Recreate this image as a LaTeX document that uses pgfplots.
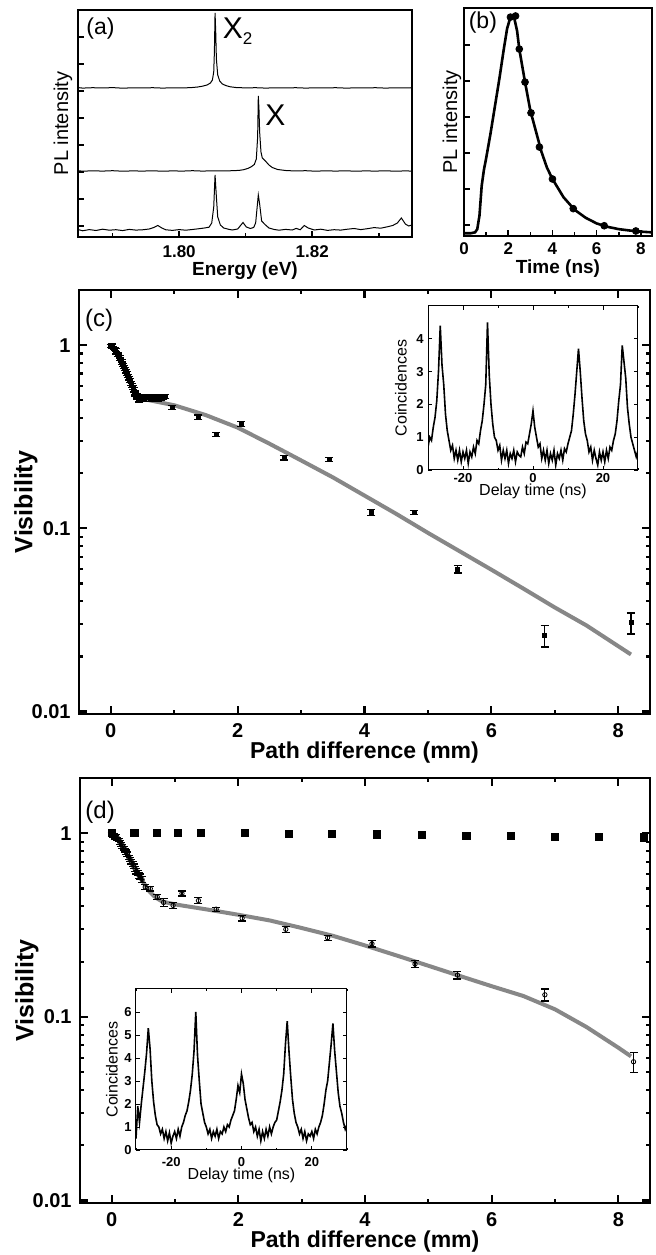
\documentclass[border=0pt]{standalone}
\usepackage{pgfplots}
\pgfplotsset{compat=1.18}
\usepackage{fontspec}
\setmainfont{Liberation Sans}
\definecolor{fitgray}{RGB}{135,135,135}
\pgfplotsset{
 specstyle/.style={scale only axis, anchor=south west, tick align=inside,
   xtick pos=bottom, ytick pos=left, axis line style={line width=1pt},
   every tick/.style={black,line width=0.8pt}, major tick length=3pt, minor tick length=1.8pt,
   ticklabel style={font=\fontsize{8.5}{9}\selectfont\bfseries}, yticklabels={},
   xticklabel style={anchor=center, yshift=-7.5pt},
   every axis x label/.style={at={(axis description cs:0.5,0)},anchor=center,yshift=-17pt,font=\fontsize{9.5}{10}\selectfont\bfseries},
   every axis y label/.style={at={(axis description cs:0,0.5)},rotate=90,anchor=center,yshift=7.5pt,font=\fontsize{10}{11}\selectfont}},
 visstyle/.style={scale only axis, anchor=south west,
   xmin=-0.5,xmax=8.5,ymin=0.0097,ymax=2,
   xtick={0,2,4,6,8}, xticklabels={0,2,4,6,8}, minor xtick={1,3,5,7},
   ytick={0.01,0.1,1}, yticklabels={0.01,0.1,1},
   minor ytick={0.02,0.03,0.04,0.05,0.06,0.07,0.08,0.09,0.2,0.3,0.4,0.5,0.6,0.7,0.8,0.9,2},
   tick align=inside, tick pos=both,
   axis line style={line width=1.4pt},
   every tick/.style={black,line width=1.1pt},
   major tick length=4pt, minor tick length=2pt,
   ticklabel style={font=\fontsize{10}{10}\selectfont\bfseries},
   xticklabel style={anchor=center, yshift=-8.5pt},
   yticklabel style={anchor=east, inner sep=0pt, xshift=-4pt},
   xlabel={Path difference (mm)}, ylabel={Visibility},
   every axis x label/.style={at={(axis description cs:0.5,0)},anchor=center,yshift=-19.5pt,font=\fontsize{11.5}{12}\selectfont\bfseries},
   every axis y label/.style={at={(axis description cs:0,0.5)},rotate=90,anchor=center,yshift=26.5pt,font=\fontsize{12.5}{13}\selectfont\bfseries}},
 insetstyle/.style={scale only axis, anchor=south west, xmin=-30, xmax=30, ymin=0,
   xtick={-20,0,20}, xticklabels={-20,0,20}, minor xtick={-30,-10,10,30},
   tick align=inside, tick pos=both, axis line style={line width=0.5pt},
   every tick/.style={black,line width=0.4pt}, major tick length=2pt, minor tick length=1.2pt,
   ticklabel style={font=\fontsize{6.5}{7}\selectfont\bfseries},
   yticklabel style={anchor=east, inner sep=0pt, xshift=-2pt},
   xlabel={Delay time (ns)}, ylabel={Coincidences},
   every axis x label/.style={at={(axis description cs:0.5,0)},anchor=center,font=\fontsize{8}{8}\selectfont},
   every axis y label/.style={at={(axis description cs:0,0.5)},rotate=90,anchor=center,font=\fontsize{8}{8}\selectfont},
   axis background/.style={fill=white}}
}
\begin{document}
\begin{tikzpicture}
\useasboundingbox (0,0) rectangle (328pt,627.5pt);
% ---------------- (a)
\begin{axis}[specstyle, at={(39pt,509pt)}, width=167pt, height=113.5pt,
  xmin=1.7848, xmax=1.835, ymin=0, ymax=227,
  xtick={1.80,1.82}, xticklabels={1.80,1.82}, minor xtick={1.79,1.81,1.83},
  ytick={11,38,65,92,119,146,173,200},
  xlabel={Energy (eV)}, ylabel={PL intensity}]
\addplot[black, line width=0.5pt] coordinates {(1.7848,149.4) (1.7855,148.9) (1.787,149.3) (1.7885,149.0) (1.790,149.4) (1.7915,148.8) (1.793,149.2) (1.7945,149.0) (1.796,149.3) (1.7975,148.9) (1.799,149.2) (1.8005,149.0) (1.802,149.5) (1.8028,150.0) (1.8035,150.8) (1.8042,152.0) (1.8047,154.0) (1.8050,157.0) (1.8052,165) (1.8053,185) (1.8054,224) (1.8055,205) (1.8056,178) (1.8058,162) (1.8061,156) (1.8065,153) (1.807,151.5) (1.8076,150.3) (1.8085,149.5) (1.810,149.1) (1.8115,149.3) (1.813,148.9) (1.8145,149.2) (1.816,149.0) (1.8175,149.3) (1.819,148.9) (1.8205,149.2) (1.822,149.0) (1.8235,149.3) (1.825,148.9) (1.8265,149.1) (1.828,149.0) (1.8295,149.3) (1.831,148.9) (1.8325,149.2) (1.834,149.0) (1.835,149.3)};
\addplot[black, line width=0.5pt] coordinates {(1.7848,66.3) (1.7855,65.8) (1.787,66.2) (1.7885,65.9) (1.790,66.3) (1.7915,65.8) (1.793,66.1) (1.7945,65.9) (1.796,66.2) (1.7975,65.8) (1.799,66.1) (1.8005,65.9) (1.802,66.3) (1.8035,65.9) (1.805,66.2) (1.8065,66.0) (1.808,66.3) (1.809,66.6) (1.8097,67.3) (1.8103,68.5) (1.8109,70.5) (1.8113,72.5) (1.8116,78) (1.8118,100) (1.8119,141) (1.8120,128) (1.8121,105) (1.8123,85) (1.8125,79) (1.8128,77) (1.8131,75) (1.8135,72) (1.8140,69.5) (1.8148,67.5) (1.816,66.5) (1.8175,66.0) (1.819,66.3) (1.8205,65.8) (1.822,66.2) (1.8235,65.9) (1.825,66.2) (1.8265,65.8) (1.828,66.1) (1.8295,65.9) (1.831,66.2) (1.8325,65.8) (1.834,66.1) (1.835,65.9)};
\addplot[black, line width=0.5pt] coordinates {(1.7848,7.5) (1.7855,6.2) (1.7865,7.4) (1.7875,6.5) (1.7885,7.8) (1.7895,6.8) (1.7905,7.3) (1.7915,6.4) (1.7925,7.6) (1.7935,6.9) (1.7945,7.2) (1.7955,8.0) (1.7962,9.5) (1.7968,11.5) (1.7974,9.0) (1.798,7.2) (1.799,6.6) (1.800,7.4) (1.801,6.8) (1.802,7.5) (1.803,8.3) (1.8038,9.0) (1.8045,9.8) (1.8049,14) (1.8052,30) (1.8054,62) (1.8056,40) (1.8058,20) (1.8062,12) (1.8067,9) (1.8075,7.6) (1.808,7.0) (1.8088,8.0) (1.8096,14.5) (1.8101,10) (1.8107,8.5) (1.8112,9.5) (1.8115,14) (1.8117,28) (1.8119,42) (1.8121,33) (1.8124,16) (1.8129,12.5) (1.8135,9) (1.8143,7.5) (1.815,6.8) (1.816,7.6) (1.817,7.0) (1.8176,8.6) (1.8182,7.2) (1.8188,11.5) (1.8194,9) (1.8203,7.0) (1.8213,7.8) (1.8223,6.6) (1.8233,7.3) (1.8243,6.9) (1.8253,7.8) (1.8263,8.5) (1.8273,7.4) (1.8283,8.3) (1.8293,9.4) (1.8303,8.8) (1.8313,10.2) (1.8321,11.5) (1.8328,14) (1.8334,19) (1.834,13) (1.8345,11) (1.835,12)};
\node[anchor=base west, inner sep=0, font=\fontsize{11.5}{12}\selectfont] at (axis cs:1.786,202) {(a)};
\node[anchor=base west, inner sep=0, font=\fontsize{15}{15}\selectfont] at (axis cs:1.8065,198) {X\raisebox{-3pt}{\fontsize{8.5}{9}\selectfont 2}};
\node[anchor=base west, inner sep=0, font=\fontsize{15}{15}\selectfont] at (axis cs:1.8129,111) {X};
\end{axis}
% ---------------- (b)
\begin{axis}[specstyle, at={(232pt,509.5pt)}, width=94pt, height=114pt,
  xmin=0, xmax=8.5, ymin=0, ymax=1,
  xtick={0,2,4,6,8}, xticklabels={0,2,4,6,8}, minor xtick={1,3,5,7},
  ytick={0.049,0.207,0.365,0.523,0.681,0.839},
  xticklabel style={yshift=1pt},
  xlabel={Time (ns)}, ylabel={PL intensity},
  every axis x label/.append style={yshift=0.5pt},
  every axis y label/.append style={yshift=-1.5pt}]
\addplot[black, line width=1.3pt] coordinates {(0,0.012) (0.3,0.012) (0.5,0.016) (0.6,0.03) (0.7,0.09) (0.8,0.22) (0.9,0.29) (1.0,0.34) (1.2,0.45) (1.4,0.57) (1.6,0.69) (1.8,0.82) (1.95,0.91) (2.1,0.96) (2.25,0.965) (2.4,0.9) (2.5,0.82) (2.75,0.68) (3.0,0.55) (3.25,0.46) (3.5,0.37) (3.75,0.30) (4.0,0.25) (4.5,0.17) (5.0,0.115) (5.5,0.08) (6.0,0.055) (6.5,0.04) (7.0,0.03) (7.5,0.024) (8.0,0.019) (8.5,0.016)};
\addplot[only marks, mark=*, mark size=1.7pt, black] coordinates {(2.1,0.96) (2.33,0.965) (2.5,0.82) (2.76,0.675) (3.03,0.54) (3.41,0.39) (4.0,0.25) (4.94,0.12) (6.34,0.045) (7.77,0.022)};
\node[anchor=base west, inner sep=0, font=\fontsize{11.5}{12}\selectfont] at (axis cs:0.2,0.91) {(b)};
\end{axis}
% ---------------- (c)
\begin{semilogyaxis}[visstyle, at={(39.5pt,270.5pt)}, width=285.5pt, height=212pt]
\addplot[fitgray, line width=2pt] coordinates {(0.55,0.505) (1.0,0.47) (1.5,0.415) (2.0,0.355) (2.5,0.29) (3.0,0.235) (3.5,0.19) (4.0,0.151) (4.5,0.120) (5.0,0.0945) (5.5,0.075) (6.0,0.0595) (6.5,0.047) (7.0,0.037) (7.5,0.0295) (8.2,0.0205)};
\addplot[only marks, mark=square*, mark size=1pt, black,
  error bars/.cd, y dir=both, y explicit,
  error bar style={line width=0.6pt,black},
  error mark options={rotate=90, mark size=2pt, line width=0.6pt, black}] coordinates {
(0.00,0.99) +- (0,0.015) (0.02,1.00) +- (0,0.015) (0.03,0.97) +- (0,0.015) (0.05,0.96) +- (0,0.015)
(0.06,0.95) +- (0,0.015) (0.08,0.94) +- (0,0.015) (0.09,0.91) +- (0,0.015) (0.11,0.90) +- (0,0.015)
(0.12,0.88) +- (0,0.015) (0.14,0.86) +- (0,0.015) (0.15,0.84) +- (0,0.015) (0.17,0.82) +- (0,0.015)
(0.18,0.80) +- (0,0.015) (0.20,0.78) +- (0,0.015) (0.21,0.76) +- (0,0.015) (0.23,0.74) +- (0,0.015)
(0.24,0.72) +- (0,0.015) (0.26,0.70) +- (0,0.015) (0.27,0.68) +- (0,0.015) (0.29,0.66) +- (0,0.015)
(0.30,0.64) +- (0,0.015) (0.32,0.62) +- (0,0.015) (0.33,0.60) +- (0,0.015) (0.35,0.59) +- (0,0.015)
(0.36,0.57) +- (0,0.015) (0.38,0.55) +- (0,0.015) (0.39,0.54) +- (0,0.015) (0.41,0.53) +- (0,0.015)
(0.42,0.52) +- (0,0.015) (0.44,0.51) +- (0,0.015) (0.45,0.50) +- (0,0.015) (0.47,0.51) +- (0,0.015)
(0.50,0.52) +- (0,0.015) (0.53,0.51) +- (0,0.015) (0.56,0.52) +- (0,0.015) (0.59,0.52) +- (0,0.015)
(0.62,0.51) +- (0,0.015) (0.65,0.52) +- (0,0.015) (0.68,0.51) +- (0,0.015) (0.71,0.52) +- (0,0.015)
(0.74,0.51) +- (0,0.015) (0.77,0.52) +- (0,0.015) (0.80,0.515) +- (0,0.015) (0.83,0.52) +- (0,0.015)
(0.86,0.525) +- (0,0.015)
(0.97,0.458) +- (0,0.012) (1.38,0.404) +- (0,0.012) (1.66,0.326) +- (0,0.008) (2.06,0.37) +- (0,0.012)
(2.73,0.243) +- (0,0.007) (3.44,0.237) +- (0,0.006) (4.11,0.122) +- (0,0.005) (4.78,0.122) +- (0,0.003)
(5.47,0.060) +- (0,0.003) (6.84,0.026) +- (0,0.0035) (8.2,0.0305) +- (0,0.004)};
\node[anchor=base west, inner sep=0, font=\fontsize{12}{12}\selectfont] at (axis cs:-0.41,1.27) {(c)};
\end{semilogyaxis}
% inset (c)
\begin{axis}[insetstyle, at={(214pt,392.5pt)}, width=105pt, height=82pt,
  ymax=5, ytick={0,1,2,3,4}, yticklabels={0,1,2,3,4},
  xticklabel style={anchor=center, yshift=-4pt},
  every axis x label/.append style={yshift=-10.5pt},
  every axis y label/.append style={yshift=13.5pt}]
\addplot[black, line width=0.8pt] coordinates {(-30.0,0.7) (-29.5,1.0) (-29.0,0.9) (-28.5,1.3) (-28.0,1.6) (-27.5,2.1) (-27.0,3.0) (-26.5,4.4) (-26.0,3.2) (-25.5,2.6) (-25.0,1.7) (-24.5,1.2) (-24.0,0.9) (-23.5,0.6) (-23.0,0.75) (-22.5,0.35) (-22.0,0.6) (-21.5,0.3) (-21.0,0.6) (-20.5,0.25) (-20.0,0.55) (-19.5,0.35) (-19.0,0.6) (-18.5,0.2) (-18.0,0.55) (-17.5,0.4) (-17.0,0.7) (-16.5,0.5) (-16.0,0.9) (-15.5,0.8) (-15.0,1.2) (-14.5,1.5) (-14.0,2.0) (-13.5,2.6) (-13.0,4.5) (-12.5,2.9) (-12.0,2.0) (-11.5,1.4) (-11.0,1.0) (-10.5,0.9) (-10.0,0.6) (-9.5,0.75) (-9.0,0.3) (-8.5,0.6) (-8.0,0.35) (-7.5,0.6) (-7.0,0.2) (-6.5,0.5) (-6.0,0.35) (-5.5,0.6) (-5.0,0.25) (-4.5,0.55) (-4.0,0.45) (-3.5,0.4) (-3.0,0.7) (-2.5,0.5) (-2.0,0.85) (-1.5,0.8) (-1.0,1.1) (-0.5,1.4) (0.0,1.8) (0.5,1.3) (1.0,1.0) (1.5,0.7) (2.0,0.8) (2.5,0.35) (3.0,0.6) (3.5,0.3) (4.0,0.6) (4.5,0.2) (5.0,0.5) (5.5,0.3) (6.0,0.6) (6.5,0.15) (7.0,0.5) (7.5,0.35) (8.0,0.6) (8.5,0.3) (9.0,0.65) (9.5,0.55) (10.0,0.8) (10.5,1.0) (11.0,1.2) (11.5,1.7) (12.0,2.3) (12.5,3.0) (13.0,3.7) (13.5,3.0) (14.0,2.2) (14.5,1.5) (15.0,1.1) (15.5,0.9) (16.0,0.55) (16.5,0.7) (17.0,0.3) (17.5,0.6) (18.0,0.35) (18.5,0.15) (19.0,0.55) (19.5,0.3) (20.0,0.55) (20.5,0.25) (21.0,0.6) (21.5,0.35) (22.0,0.7) (22.5,0.6) (23.0,0.9) (23.5,1.1) (24.0,1.5) (24.5,2.1) (25.0,2.6) (25.5,3.8) (26.0,3.3) (26.5,2.8) (27.0,1.9) (27.5,1.4) (28.0,1.0) (28.5,0.8) (29.0,0.6) (29.5,0.4) (30.0,0.6)};
\end{axis}
% ---------------- (d)
\begin{semilogyaxis}[visstyle, at={(40pt,26pt)}, width=285pt, height=212.5pt]
\addplot[fitgray, line width=2pt] coordinates {(0,1.0) (0.1,0.95) (0.2,0.84) (0.3,0.72) (0.4,0.62) (0.5,0.54) (0.6,0.48) (0.7,0.445) (0.8,0.425) (1.0,0.41) (1.5,0.385) (2.0,0.36) (2.5,0.335) (3.0,0.305) (3.5,0.276) (4.0,0.245) (4.5,0.216) (5.0,0.19) (5.5,0.167) (6.0,0.147) (6.5,0.13) (7.0,0.11) (7.5,0.088) (8.0,0.068) (8.2,0.061)};
\addplot[only marks, mark=o, mark size=1.1pt, black,
  error bars/.cd, y dir=both, y explicit,
  error bar style={line width=0.6pt,black},
  error mark options={rotate=90, mark size=2pt, line width=0.6pt, black}] coordinates {
(0.00,0.99) +- (0,0.02) (0.02,0.97) +- (0,0.02) (0.04,0.98) +- (0,0.02) (0.05,0.95) +- (0,0.02)
(0.07,0.96) +- (0,0.02) (0.09,0.93) +- (0,0.02) (0.11,0.92) +- (0,0.02) (0.13,0.89) +- (0,0.02)
(0.15,0.87) +- (0,0.02) (0.17,0.85) +- (0,0.02) (0.19,0.83) +- (0,0.02) (0.21,0.81) +- (0,0.02)
(0.23,0.79) +- (0,0.02) (0.25,0.77) +- (0,0.02) (0.27,0.74) +- (0,0.02) (0.29,0.72) +- (0,0.02)
(0.31,0.70) +- (0,0.02) (0.33,0.68) +- (0,0.02) (0.35,0.66) +- (0,0.02) (0.37,0.64) +- (0,0.02)
(0.39,0.62) +- (0,0.02) (0.41,0.61) +- (0,0.02) (0.43,0.59) +- (0,0.02) (0.45,0.58) +- (0,0.02)
(0.48,0.56) +- (0,0.02) (0.53,0.51) +- (0,0.015) (0.61,0.50) +- (0,0.015) (0.72,0.45) +- (0,0.015)
(0.82,0.42) +- (0,0.02) (0.97,0.405) +- (0,0.015) (1.11,0.47) +- (0,0.015) (1.37,0.43) +- (0,0.015)
(1.65,0.386) +- (0,0.01) (2.06,0.345) +- (0,0.012) (2.75,0.30) +- (0,0.012) (3.41,0.27) +- (0,0.008)
(4.11,0.25) +- (0,0.01) (4.79,0.194) +- (0,0.008) (5.46,0.169) +- (0,0.008) (6.84,0.132) +- (0,0.01)
(8.24,0.057) +- (0,0.007)};
\addplot[only marks, mark=square*, mark size=1.8pt, black] coordinates {(0,1.0) (0.36,1.0) (0.71,1.0) (1.05,1.0) (1.41,1.0) (2.1,1.0) (2.8,0.995) (3.48,0.99) (4.19,0.985) (4.9,0.975) (5.6,0.97) (6.3,0.965) (7.0,0.96) (7.69,0.955) (8.4,0.95)};
\node[anchor=base west, inner sep=0, font=\fontsize{12}{12}\selectfont] at (axis cs:-0.42,1.21) {(d)};
\end{semilogyaxis}
% inset (d)
\begin{axis}[insetstyle, at={(68pt,52.5pt)}, width=105.5pt, height=80.5pt,
  ymax=7, ytick={0,1,2,3,4,5,6}, yticklabels={0,1,2,3,4,5,6},
  xticklabel style={anchor=center, yshift=-6pt},
  every axis x label/.append style={yshift=-12.5pt},
  every axis y label/.append style={yshift=12pt}]
\addplot[black, line width=0.8pt] coordinates {(-30.0,0.5) (-29.5,1.9) (-29.0,1.2) (-28.5,2.0) (-28.0,2.7) (-27.5,3.4) (-27.0,4.2) (-26.5,5.3) (-26.0,4.4) (-25.5,3.0) (-25.0,2.1) (-24.5,1.5) (-24.0,1.1) (-23.5,1.0) (-23.0,0.7) (-22.5,0.9) (-22.0,0.5) (-21.5,0.8) (-21.0,0.4) (-20.5,0.75) (-20.0,0.3) (-19.5,0.6) (-19.0,0.8) (-18.5,0.5) (-18.0,0.9) (-17.5,0.6) (-17.0,1.0) (-16.5,1.2) (-16.0,1.5) (-15.5,1.7) (-15.0,2.1) (-14.5,2.6) (-14.0,3.3) (-13.5,4.3) (-13.0,6.0) (-12.5,4.1) (-12.0,3.0) (-11.5,2.0) (-11.0,1.6) (-10.5,1.2) (-10.0,1.0) (-9.5,0.7) (-9.0,0.9) (-8.5,0.5) (-8.0,0.8) (-7.5,0.6) (-7.0,0.9) (-6.5,0.5) (-6.0,0.8) (-5.5,0.7) (-5.0,1.0) (-4.5,0.8) (-4.0,1.1) (-3.5,1.0) (-3.0,1.3) (-2.5,1.5) (-2.0,1.7) (-1.5,2.2) (-1.0,2.8) (-0.5,2.5) (0.0,3.3) (0.5,2.9) (1.0,2.2) (1.5,1.8) (2.0,1.4) (2.5,1.1) (3.0,1.2) (3.5,0.8) (4.0,1.0) (4.5,0.6) (5.0,0.9) (5.5,0.4) (6.0,0.8) (6.5,0.5) (7.0,0.9) (7.5,0.6) (8.0,1.0) (8.5,0.7) (9.0,1.0) (9.5,1.2) (10.0,1.3) (10.5,1.7) (11.0,2.1) (11.5,2.6) (12.0,3.3) (12.5,4.6) (13.0,5.6) (13.5,4.3) (14.0,3.2) (14.5,2.2) (15.0,1.6) (15.5,1.2) (16.0,1.0) (16.5,0.7) (17.0,0.9) (17.5,0.5) (18.0,0.8) (18.5,0.4) (19.0,0.7) (19.5,0.6) (20.0,0.8) (20.5,0.5) (21.0,0.9) (21.5,0.7) (22.0,1.0) (22.5,1.2) (23.0,1.5) (23.5,2.0) (24.0,2.6) (24.5,3.0) (25.0,3.8) (25.5,4.6) (26.0,5.5) (26.5,4.3) (27.0,3.4) (27.5,2.5) (28.0,1.9) (28.5,1.6) (29.0,1.2) (29.5,0.9) (30.0,1.1)};
\end{axis}
\end{tikzpicture}
\end{document}
